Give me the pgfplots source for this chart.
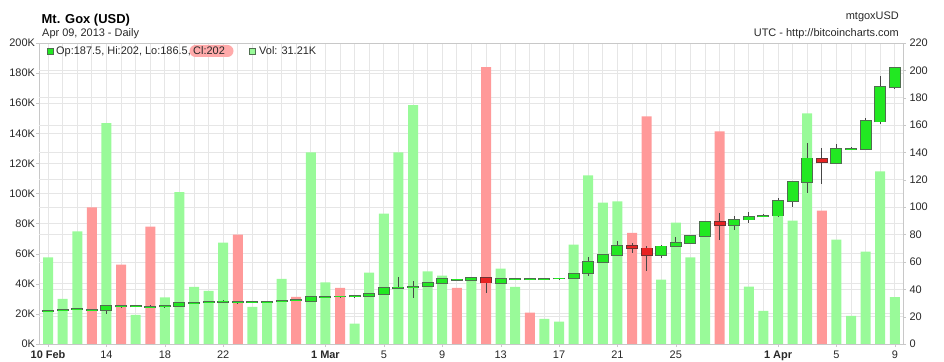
\documentclass[border=0pt]{standalone}
\usepackage{pgfplots}
\pgfplotsset{compat=1.18}
\usepackage{pgfplotstable}
\usepackage{fontspec}
\setmainfont{Liberation Sans}

\definecolor{volg}{RGB}{153,250,153}
\definecolor{volr}{RGB}{255,153,153}
\definecolor{cgf}{RGB}{34,232,34}
\definecolor{cgo}{RGB}{80,110,80}
\definecolor{crf}{RGB}{232,34,34}
\definecolor{cro}{RGB}{110,50,50}
\definecolor{wickc}{RGB}{70,70,70}
\definecolor{gridc}{RGB}{230,230,230}
\definecolor{axisc}{RGB}{200,200,200}
\definecolor{labc}{RGB}{40,40,40}
\definecolor{pill}{RGB}{255,170,170}

% volume (thousands), green bars
\pgfplotstableread{
i V
0 57.5
1 30
2 74.9
4 146.7
6 19.3
8 30.9
9 100.9
10 38
11 35.3
12 67.3
14 24.7
15 28
16 43.3
18 127.3
19 40.9
21 13.5
22 47.5
23 86.7
24 127.3
25 158.7
26 48.2
27 45.5
29 44
31 50
32 38
34 16.7
35 14.9
36 66
37 112
38 94
39 94.7
42 42.7
43 80.7
44 57.5
45 72
47 80.9
48 38.2
49 22
50 86
51 82
52 153.3
54 69.3
55 18.7
56 61.3
57 114.7
58 31.21
}\volgreen

% volume (thousands), red bars
\pgfplotstableread{
i V
3 90.7
5 52.7
7 78
13 72.7
17 31.3
20 37.3
28 37.3
30 184
33 20.9
40 73.8
41 151.3
46 141.3
53 88.7
}\volred

% candles closing up
\pgfplotstableread{
i O H L C
0 24.2 24.8 23.9 24.4
1 24.9 25.4 24.6 25.1
2 25.5 25.9 25.3 25.7
3 25.0 25.6 24.8 25.2
4 24.7 28.2 22.0 27.9
5 27.4 28.0 27.1 27.7
6 27.5 27.9 27.3 27.7
7 27.0 28.5 26.3 27.2
8 27.4 27.9 27.2 27.6
9 27.6 30.0 27.4 29.8
10 29.7 30.2 29.5 29.9
11 30.4 30.9 30.1 30.6
12 30.9 32.0 30.0 31.1
13 30.7 31.5 29.5 30.9
14 30.7 31.1 30.5 30.9
15 30.7 31.0 30.5 30.9
16 31.2 31.6 31.0 31.4
17 31.8 32.3 31.5 32.0
18 31.3 34.5 31.0 34.2
19 34.3 34.8 34.0 34.6
20 34.6 35.4 34.0 34.8
21 34.7 35.1 34.5 34.9
22 34.9 37.0 34.6 36.7
23 36.7 41.0 36.5 40.8
24 41.1 49.3 40.5 41.4
25 41.6 46.2 33.5 41.9
26 42.3 44.8 42.0 44.5
27 44.5 47.7 44.2 47.4
28 47.0 47.4 46.7 47.2
29 46.9 48.9 46.6 48.6
31 44.5 48.0 44.2 47.7
32 47.3 47.7 47.0 47.5
33 47.3 47.7 47.0 47.5
34 47.3 47.7 47.0 47.5
35 47.8 48.2 47.5 48.0
36 48.2 51.8 47.9 51.5
37 51.8 63.3 50.0 59.9
38 59.9 65.8 59.0 65.2
39 65.2 75.0 64.0 71.6
42 65.2 72.0 62.8 71.3
43 71.3 78.2 71.0 73.8
44 74.0 79.5 73.5 78.9
45 78.9 89.5 78.5 89.2
47 87.0 93.3 83.6 90.9
48 90.9 96.3 88.5 92.9
49 93.2 95.0 92.5 93.5
50 93.8 107.0 93.5 104.3
51 104.6 119.0 100.0 118.5
52 118.3 146.6 110.5 135.6
54 132.5 145.9 132.0 142.7
55 142.5 144.0 141.5 142.8
56 142.7 165.5 142.0 163.0
57 162.5 196.0 161.0 188.2
58 187.5 202.0 186.5 202.0
}\candup

% candles closing down
\pgfplotstableread{
i O H L C
30 48.6 49.0 37.4 44.9
40 71.8 73.8 66.5 70.1
41 69.9 71.3 53.0 65.0
46 89.2 95.8 75.7 87.2
53 135.4 143.5 117.3 132.7
}\canddown

\begin{document}
\begin{tikzpicture}
\useasboundingbox (0,0) rectangle (944bp,362bp);

% ---- volume axis (left) ----
\begin{axis}[
  at={(39bp,18bp)}, anchor=south west,
  scale only axis, width=864bp, height=301bp,
  xmin=-0.62, xmax=58.56, ymin=0, ymax=200,
  /pgf/number format/assume math mode=true,
  axis line style={draw=axisc},
  tick pos=left, tick align=outside,
  major tick length=3bp,
  tick style={draw=axisc},
  xtick={0,4,8,12,19,23,27,31,35,39,43,50,54,58},
  xticklabels={\textbf{10 Feb},14,18,22,\textbf{1 Mar},5,9,13,17,21,25,\textbf{1 Apr},5,9},
  minor xtick={0,...,58},
  minor tick length=0pt,
  xmajorgrids, xminorgrids, ymajorgrids,
  grid style={draw=gridc, line width=0.8bp},
  minor grid style={draw=gridc, line width=0.8bp},
  ytick={0,20,...,200},
  yticklabel={\pgfmathprintnumber{\tick}K},
  extra y ticks={18.1818,36.3636,54.5455,72.7273,90.9091,109.0909,127.2727,145.4545,163.6364,181.8182},
  extra y tick labels={},
  extra y tick style={major tick length=0pt},
  tick label style={font=\fontsize{11}{13}\selectfont, text=labc},
  yticklabel style={xshift=2.5bp},
  xticklabel style={yshift=-0.5bp},
]
\addplot[ybar, bar width=10bp, bar shift=0pt, fill=volg, draw=none] table[x=i, y=V]{\volgreen};
\addplot[ybar, bar width=10bp, bar shift=0pt, fill=volr, draw=none] table[x=i, y=V]{\volred};
\end{axis}

% ---- price axis (right) ----
\begin{axis}[
  at={(39bp,18bp)}, anchor=south west,
  scale only axis, width=864bp, height=301bp,
  xmin=-0.62, xmax=58.56, ymin=0, ymax=220,
  /pgf/number format/assume math mode=true,
  axis x line=none, axis y line*=right,
  axis line style={draw=axisc},
  tick align=outside, major tick length=3bp,
  tick style={draw=axisc},
  ytick={0,20,...,220},
  tick label style={font=\fontsize{11}{13}\selectfont, text=labc},
]
% wicks
\addplot[draw=none, mark=none, error bars/.cd, y dir=both, y explicit, error mark=none,
  error bar style={draw=wickc, line width=1bp}]
  table[x=i, y=O, y error plus expr=\thisrow{H}-\thisrow{O}, y error minus expr=\thisrow{O}-\thisrow{L}]{\candup};
\addplot[draw=none, mark=none, error bars/.cd, y dir=both, y explicit, error mark=none,
  error bar style={draw=wickc, line width=1bp}]
  table[x=i, y=O, y error plus expr=\thisrow{H}-\thisrow{O}, y error minus expr=\thisrow{O}-\thisrow{L}]{\canddown};
% bodies up
\addplot[draw=none, mark=none, error bars/.cd, y dir=plus, y explicit, error mark=none,
  error bar style={draw=cgo, line width=12bp}]
  table[x=i, y expr=\thisrow{O}-0.6, y error plus expr=\thisrow{C}-\thisrow{O}+1.2]{\candup};
\addplot[draw=none, mark=none, error bars/.cd, y dir=plus, y explicit, error mark=none,
  error bar style={draw=cgf, line width=10bp}]
  table[x=i, y=O, y error plus expr=\thisrow{C}-\thisrow{O}]{\candup};
% bodies down
\addplot[draw=none, mark=none, error bars/.cd, y dir=plus, y explicit, error mark=none,
  error bar style={draw=cro, line width=12bp}]
  table[x=i, y expr=\thisrow{C}-0.6, y error plus expr=\thisrow{O}-\thisrow{C}+1.2]{\canddown};
\addplot[draw=none, mark=none, error bars/.cd, y dir=plus, y explicit, error mark=none,
  error bar style={draw=crf, line width=10bp}]
  table[x=i, y=C, y error plus expr=\thisrow{O}-\thisrow{C}]{\canddown};
\end{axis}

% ---- titles ----
\node[anchor=base west, inner sep=0, font=\bfseries\fontsize{13}{15}\selectfont] at (41.5bp,338.5bp) {Mt. Gox (USD)};
\node[anchor=base west, inner sep=0, font=\fontsize{11}{13}\selectfont, text=labc] at (42bp,325bp) {Apr 09, 2013 - Daily};
\node[anchor=base east, inner sep=0, font=\fontsize{11}{13}\selectfont, text=labc] at (899bp,342bp) {mtgoxUSD};
\node[anchor=base east, inner sep=0, font=\fontsize{11}{13}\selectfont, text=labc] at (899bp,325bp) {UTC - http://bitcoincharts.com};

% ---- legend row ----
\node[draw=cgo, fill=cgf, minimum size=6bp, inner sep=0] at (50.5bp,311bp) {};
\node[anchor=base west, inner sep=0, font=\fontsize{11}{13}\selectfont, text=labc] at (56bp,307bp) {Op:187.5, Hi:202, Lo:186.5,};
\node[fill=pill, rounded corners=6bp, minimum height=12bp, minimum width=44bp, inner sep=0] at (211.5bp,311bp) {};
\node[anchor=base west, inner sep=0, font=\fontsize{11}{13}\selectfont, text=labc] at (193bp,307bp) {Cl:202};
\node[draw=cgo, fill=volg, minimum size=6bp, inner sep=0] at (252bp,311bp) {};
\node[anchor=base west, inner sep=0, font=\fontsize{11}{13}\selectfont, text=labc] at (259bp,307bp) {Vol: 31.21K};
\end{tikzpicture}
\end{document}
